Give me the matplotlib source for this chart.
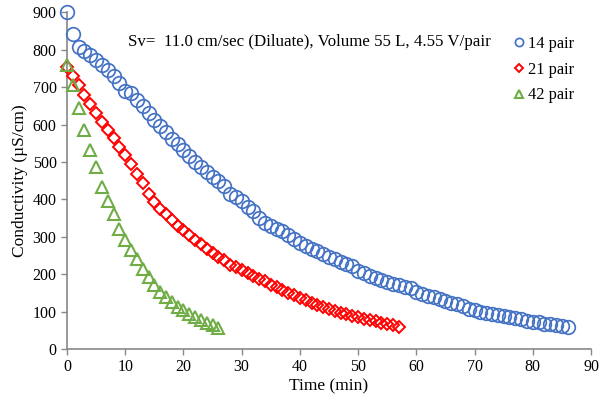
import matplotlib
matplotlib.use("Agg")
import matplotlib.pyplot as plt

plt.rcParams['font.family'] = ['Liberation Serif', 'DejaVu Serif']

# 14 pair (blue circles)
t14 = list(range(0, 87))
c14 = [900, 843, 808, 797, 785, 772, 760, 745, 730, 712,
       690, 683, 665, 650, 630, 612, 596, 580, 562, 548,
       532, 515, 500, 487, 473, 460, 448, 436, 415, 405,
       395, 380, 370, 350, 338, 330, 322, 315, 305, 295,
       283, 276, 268, 261, 254, 247, 240, 233, 227, 221,
       208, 202, 196, 190, 185, 180, 175, 170, 165, 163,
       152, 147, 142, 138, 133, 129, 124, 119, 114, 108,
       104, 100, 97, 94, 91, 88, 85, 82, 79, 76,
       73, 71, 68, 66, 64, 62, 60]

# 21 pair (red diamonds)
t21 = list(range(0, 58))
c21 = [755, 730, 705, 680, 655, 630, 607, 585, 563, 540,
       518, 495, 468, 443, 415, 392, 375, 360, 345, 330,
       318, 305, 292, 280, 268, 257, 247, 237, 225, 218,
       210, 202, 195, 188, 181, 172, 165, 158, 150, 143,
       136, 130, 124, 118, 112, 107, 102, 97, 93, 89,
       85, 81, 77, 74, 70, 67, 63, 60]

# 42 pair (green triangles)
t42 = list(range(0, 27))
c42 = [760, 705, 645, 585, 532, 487, 433, 395, 360, 322,
       290, 265, 240, 215, 193, 170, 152, 138, 125, 112,
       103, 93, 85, 77, 70, 63, 56]

labels = ["14 pair", "21 pair", "42 pair"]
xticks = [0, 10, 20, 30, 40, 50, 60, 70, 80, 90]
yticks = [0, 100, 200, 300, 400, 500, 600, 700, 800, 900]

fig = plt.figure(figsize=(6.0, 3.97), dpi=100)
ax = fig.add_axes([0.1117, 0.121, 0.8733, 0.848])

ax.plot(t14, c14, linestyle='none', marker='o', markersize=9.8,
        markerfacecolor='none', markeredgecolor='#4472C4', markeredgewidth=1.25,
        label=labels[0], clip_on=False, zorder=3)
ax.plot(t21, c21, linestyle='none', marker='D', markersize=6.5,
        markerfacecolor='none', markeredgecolor='#FF0000', markeredgewidth=1.4,
        label=labels[1], clip_on=False, zorder=3)
ax.plot(t42, c42, linestyle='none', marker='^', markersize=9.0,
        markerfacecolor='none', markeredgecolor='#70AD47', markeredgewidth=1.5,
        label=labels[2], clip_on=False, zorder=3)

ax.set_xlim(0, 90)
ax.set_ylim(0, 900)
ax.set_xticks(xticks)
ax.set_yticks(yticks)
ax.tick_params(axis='both', labelsize=11.5, colors='black', length=4,
               width=1.0, direction='out')
ax.tick_params(axis='both', color='#888888')
for s in ['top', 'right']:
    ax.spines[s].set_visible(False)
for s in ['left', 'bottom']:
    ax.spines[s].set_color('#888888')
    ax.spines[s].set_linewidth(1.2)

ax.set_xlabel("Time (min)", fontsize=12.5, labelpad=2)
ax.set_ylabel("Conductivity (µS/cm)", fontsize=12.5, labelpad=3)

fig.text(0.213, 0.894, "Sv=  11.0 cm/sec (Diluate), Volume 55 L, 4.55 V/pair",
         fontsize=12.2, va='center', ha='left')

leg = ax.legend(loc='upper left', bbox_to_anchor=(0.84, 0.95), frameon=False,
                fontsize=11.8, markerscale=0.6, handlelength=0.6,
                handletextpad=0.3, labelspacing=0.6, borderaxespad=0)

fig.savefig("out.png", dpi=100)
